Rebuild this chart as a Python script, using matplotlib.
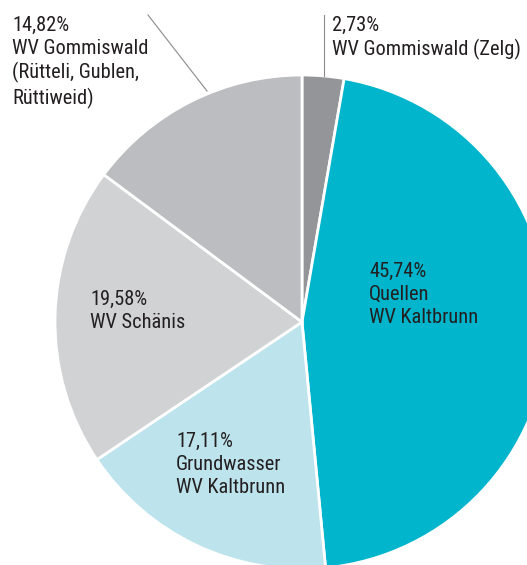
import numpy as np
import matplotlib
matplotlib.use('Agg')
import matplotlib.pyplot as plt
from matplotlib import font_manager

# pick a condensed face if one is installed
files = font_manager.findSystemFonts() + [f.fname for f in font_manager.fontManager.ttflist]
font_file = None
for key in ['RobotoCondensed-Regular', 'Roboto_Condensed-Regular', 'OpenSans_Condensed-Regular',
            'LiberationSansNarrow-Regular', 'DejaVuSansCondensed.ttf']:
    hits = [f for f in files if key in f]
    if hits:
        font_file = hits[0]
        break

FS = 14.7

def fp():
    if font_file:
        return font_manager.FontProperties(fname=font_file, size=FS)
    return font_manager.FontProperties(family='DejaVu Sans', stretch='condensed', size=FS - 2)

# slices, clockwise from 12 o'clock
labels = ['2,73%\nWV Gommiswald (Zelg)',
          '45,74%\nQuellen\nWV Kaltbrunn',
          '17,11%\nGrundwasser\nWV Kaltbrunn',
          '19,58%\nWV Schänis',
          '14,82%\nWV Gommiswald\n(Rütteli, Gublen,\nRüttiweid)']
shares = [2.73, 45.74, 17.11, 19.58, 14.82]
colors = ['#949599', '#00b5cc', '#bde3ec', '#d1d2d4', '#bcbdc1']

# label top-left corners in pixels
label_px = [(332, 16), (369, 262), (176, 432), (90, 290), (12, 16)]

W, H = 527, 565
cx, cy, R = 302, 322, 247

fig = plt.figure(figsize=(W / 100, H / 100), dpi=100)
ax = fig.add_axes([0, 0, 1, 1])
ax.pie(shares, colors=colors, startangle=90, counterclock=False,
       radius=1, wedgeprops=dict(edgecolor='white', linewidth=2))
ax.set_xlim(-cx / R, (W - cx) / R)
ax.set_ylim(-(H - cy) / R, cy / R)
ax.set_aspect('equal')
ax.axis('off')

def px(x, y):
    return ((x - cx) / R, (cy - y) / R)

for lab, (x, y) in zip(labels, label_px):
    ax.text(*px(x, y), lab, ha='left', va='top', fontproperties=fp(),
            linespacing=1.26, color='#231f20')

# leader lines
ax.plot(*zip(px(324, 15), px(324, 76)), color='#8a8a8a', lw=0.8)
ax.plot(*zip(px(148, 15), px(207, 91)), color='#8a8a8a', lw=0.8)

fig.savefig('out.png', dpi=100)
